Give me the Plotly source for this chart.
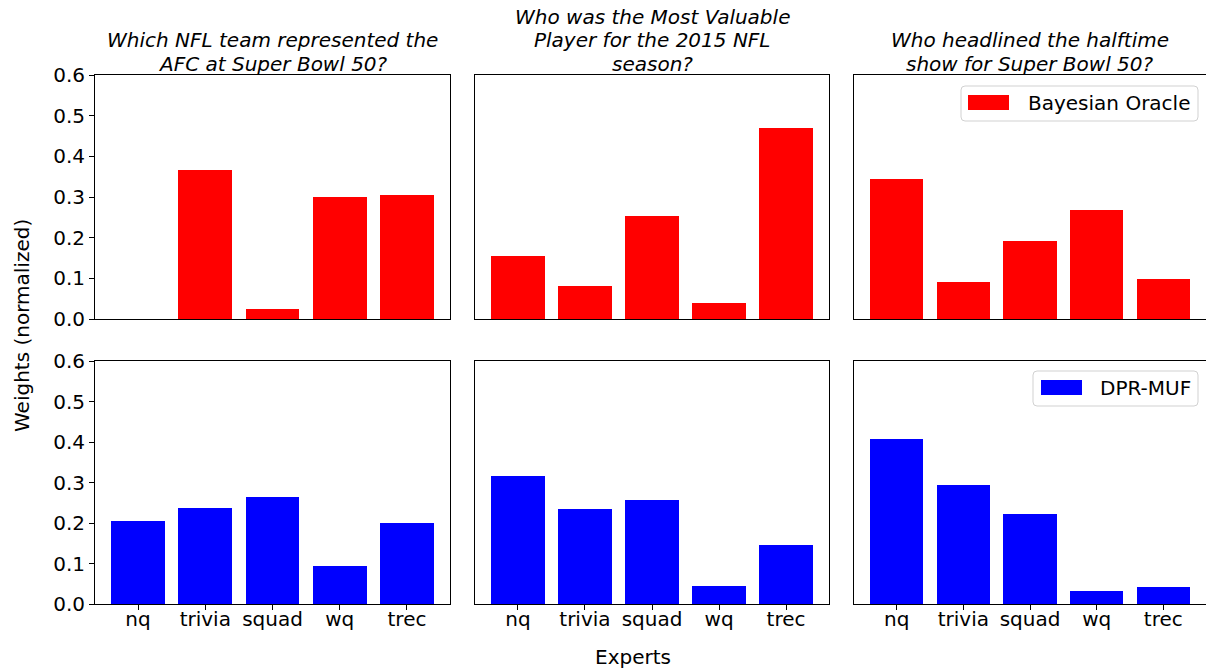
import plotly.graph_objects as go
from plotly.subplots import make_subplots

# Experts on the x axis
experts = ["nq", "trivia", "squad", "wq", "trec"]

# Questions shown as panel titles (one entry per line)
questions = [
    ["Which NFL team represented the", "AFC at Super Bowl 50?"],
    ["Who was the Most Valuable", "Player for the 2015 NFL", "season?"],
    ["Who headlined the halftime", "show for Super Bowl 50?"],
]

# Normalized expert weights per question
oracle_q1 = [0.0, 0.366, 0.025, 0.300, 0.305]
oracle_q2 = [0.155, 0.081, 0.253, 0.039, 0.470]
oracle_q3 = [0.344, 0.091, 0.192, 0.268, 0.098]

muf_q1 = [0.205, 0.237, 0.264, 0.094, 0.200]
muf_q2 = [0.316, 0.234, 0.256, 0.044, 0.145]
muf_q3 = [0.407, 0.293, 0.222, 0.032, 0.042]

yticks = [0.0, 0.1, 0.2, 0.3, 0.4, 0.5, 0.6]

W, H = 1206, 670
FONT = "DejaVu Sans"
RED = "#ff0000"
BLUE = "#0000ff"


def px(x):
    return x / W


def py(y):
    return 1 - y / H


fig = make_subplots(rows=2, cols=3)

rows = [
    ("Bayesian Oracle", RED, [oracle_q1, oracle_q2, oracle_q3]),
    ("DPR-MUF", BLUE, [muf_q1, muf_q2, muf_q3]),
]
for r, (name, color, series) in enumerate(rows, start=1):
    for c, vals in enumerate(series, start=1):
        fig.add_trace(
            go.Bar(x=experts, y=vals, name=name, width=0.8,
                   marker=dict(color=color, line=dict(width=0)),
                   showlegend=False),
            row=r, col=c,
        )

# Panel geometry (pixels)
col_x = [(95, 450), (475, 829), (854, 1206)]
row_y = [(75, 319), (361, 604)]

for r in range(2):
    for c in range(3):
        idx = r * 3 + c + 1
        xa = "xaxis" if idx == 1 else f"xaxis{idx}"
        ya = "yaxis" if idx == 1 else f"yaxis{idx}"
        x0, x1 = col_x[c]
        y0, y1 = row_y[r]
        fig.layout[xa].update(
            domain=[px(x0), px(x1)],
            range=[-0.64, 4.64], automargin=False,
            showline=True, mirror=True, linecolor="black", linewidth=1,
            showgrid=False, zeroline=False,
            ticks="outside" if r == 1 else "", ticklen=5, tickcolor="black",
            showticklabels=(r == 1), ticklabelstandoff=-8,
            tickfont=dict(family=FONT, size=20, color="black"),
        )
        fig.layout[ya].update(
            domain=[py(y1), py(y0)],
            range=[0, 0.6], automargin=False,
            tickvals=yticks, tickformat=".1f",
            showline=True, mirror=True, linecolor="black", linewidth=1,
            showgrid=False, zeroline=False,
            ticks="outside" if c == 0 else "", ticklen=5, tickcolor="black",
            showticklabels=(c == 0),
            tickfont=dict(family=FONT, size=20, color="black"),
        )

annotations = []
for c, lines in enumerate(questions):
    x0, x1 = col_x[c]
    n = len(lines)
    for i, line in enumerate(lines):
        k = n - 1 - i  # line index counted from the bottom
        annotations.append(dict(
            text="<i>" + line + "</i>",
            xref="paper", yref="paper",
            x=px((x0 + x1) / 2), y=py(64 - 23.5 * k),
            xanchor="center", yanchor="middle", showarrow=False,
            font=dict(family=FONT, size=20, color="black"),
        ))

annotations.append(dict(
    text="Experts", xref="paper", yref="paper", x=px(633), y=py(657),
    xanchor="center", yanchor="middle", showarrow=False,
    font=dict(family=FONT, size=20, color="black"),
))
annotations.append(dict(
    text="Weights (normalized)", xref="paper", yref="paper", x=px(22), y=py(326),
    xanchor="center", yanchor="middle", showarrow=False, textangle=-90,
    font=dict(family=FONT, size=20, color="black"),
))


def rounded_box(x0, y0, x1, y1, r=4):
    # Rounded rectangle path in paper coordinates from pixel corners
    rx, ry = r / W, r / H
    X0, X1 = px(x0), px(x1)
    Y0, Y1 = py(y0), py(y1)  # Y0 top, Y1 bottom
    return (f"M {X0 + rx},{Y0} L {X1 - rx},{Y0} Q {X1},{Y0} {X1},{Y0 - ry} "
            f"L {X1},{Y1 + ry} Q {X1},{Y1} {X1 - rx},{Y1} "
            f"L {X0 + rx},{Y1} Q {X0},{Y1} {X0},{Y1 + ry} "
            f"L {X0},{Y0 - ry} Q {X0},{Y0} {X0 + rx},{Y0} Z")


shapes = []
legends = [
    ("Bayesian Oracle", RED, (961, 86, 1198, 121), (968, 95, 1009, 110), 1026, 103),
    ("DPR-MUF", BLUE, (1033, 371, 1198, 406), (1041, 380, 1082, 395), 1098, 388),
]
for label, color, box, patch, tx, ty in legends:
    shapes.append(dict(type="path", xref="paper", yref="paper",
                       path=rounded_box(*box),
                       line=dict(color="rgba(204,204,204,0.9)", width=1),
                       fillcolor="rgba(255,255,255,0.8)"))
    shapes.append(dict(type="rect", xref="paper", yref="paper",
                       x0=px(patch[0]), x1=px(patch[2]),
                       y0=py(patch[3]), y1=py(patch[1]),
                       line=dict(width=0), fillcolor=color))
    annotations.append(dict(
        text=label, xref="paper", yref="paper", x=px(tx), y=py(ty),
        xanchor="left", yanchor="middle", showarrow=False,
        font=dict(family=FONT, size=20, color="black"),
    ))

fig.update_layout(
    width=W, height=H,
    margin=dict(l=0, r=0, t=0, b=0),
    paper_bgcolor="white", plot_bgcolor="white",
    annotations=annotations, shapes=shapes,
    showlegend=False, bargap=0,
    font=dict(family=FONT, size=20, color="black"),
)

fig.write_html("out.html")
